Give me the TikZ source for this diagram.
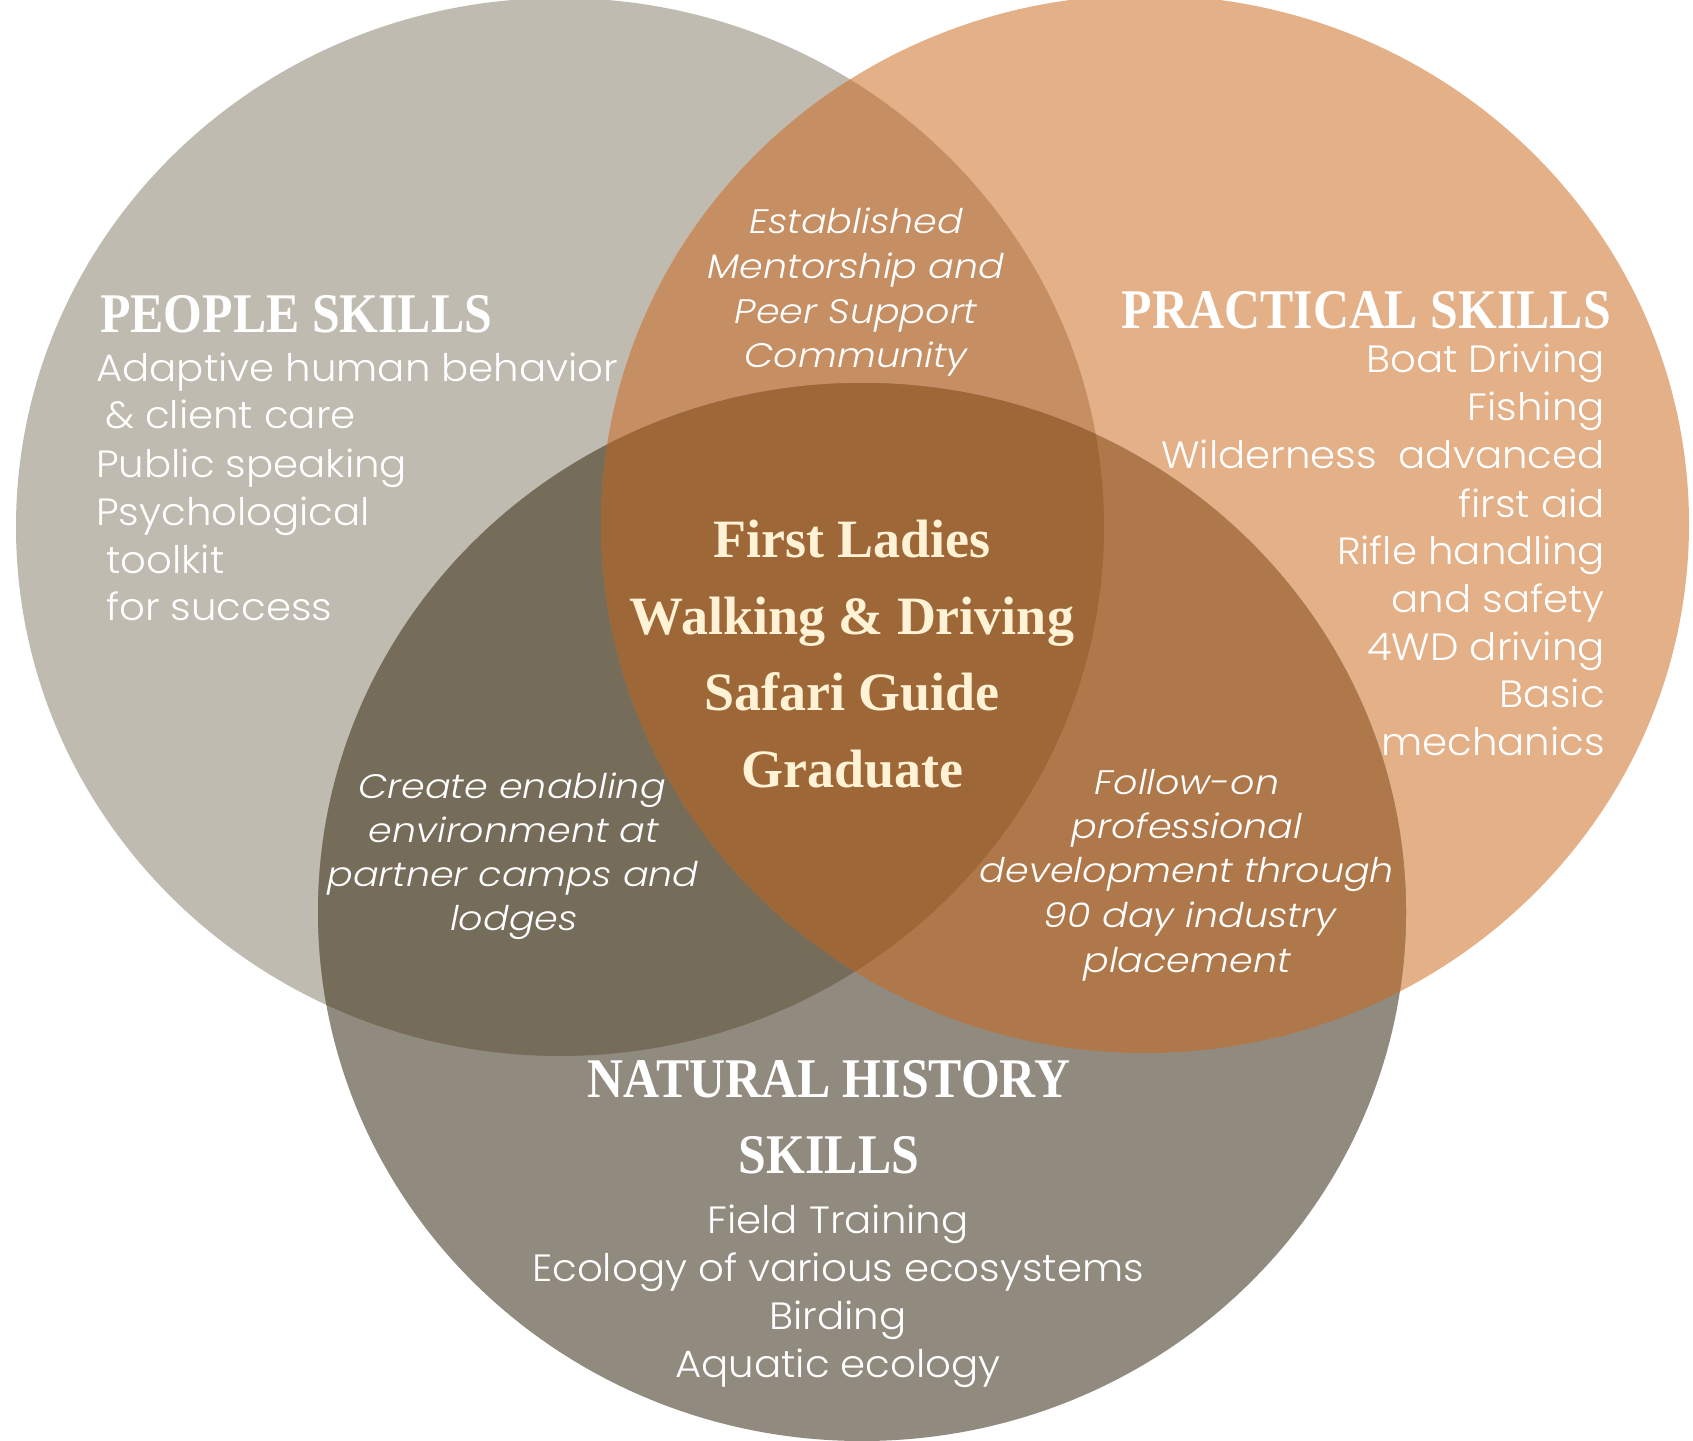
\documentclass[tikz,border=0pt]{standalone}
\usepackage{fontspec}
\newfontfamily\bodyf{Poppins Light}[FakeStretch=1.06]
\newfontfamily\italf{Poppins Light Italic}[FakeStretch=1.12]
\newfontfamily\headf{Liberation Serif}[FakeStretch=0.89]
\newfontfamily\titlef{Liberation Serif}
\definecolor{leftc}{HTML}{BFBBB0}
\definecolor{rightc}{HTML}{E3B088}
\definecolor{botc}{HTML}{918A7E}
\definecolor{lrc}{HTML}{C68E63}
\definecolor{lbc}{HTML}{756C5A}
\definecolor{rbc}{HTML}{AF784B}
\definecolor{allc}{HTML}{9E6737}
\definecolor{cream}{HTML}{FFF2D5}
\tikzset{
  body/.style={font=\bodyf\fontsize{38}{46}\selectfont, text=white, inner sep=0pt},
  ital/.style={font=\italf\fontsize{34}{44}\selectfont, text=white, inner sep=0pt},
  head/.style={font=\headf\bfseries\fontsize{56}{60}\selectfont, text=white, inner sep=0pt},
  ttl/.style={font=\titlef\bfseries\fontsize{54}{60}\selectfont, text=cream, inner sep=0pt},
}
\def\EL{(560,527) ellipse [x radius=544pt, y radius=529pt]}
\def\ER{(1145,524) ellipse [x radius=544pt, y radius=529pt]}
\def\EB{(862,912) ellipse [x radius=544pt, y radius=529pt]}
\begin{document}
\begin{tikzpicture}[x=1pt,y=-1pt]
\useasboundingbox (0,0) rectangle (1693,1440);
% base circles
\fill[leftc] \EL;
\fill[rightc] \ER;
\fill[botc] \EB;
% pairwise overlaps
\begin{scope}\clip \EL; \fill[lrc] \ER; \end{scope}
\begin{scope}\clip \EL; \fill[lbc] \EB; \end{scope}
\begin{scope}\clip \ER; \fill[rbc] \EB; \end{scope}
\begin{scope}\clip \EL; \clip \ER; \fill[allc] \EB; \end{scope}

% PEOPLE SKILLS
\node[head, anchor=base west] (ph) at (100,332) {PEOPLE SKILLS};
\node[body, anchor=base west] (p1) at (96,381) {Adaptive human behavior};
\node[body, anchor=base west] (p2) at (105,428) {\& client care};
\node[body, anchor=base west] (p3) at (96,477) {Public speaking};
\node[body, anchor=base west] (p4) at (96,525) {Psychological};
\node[body, anchor=base west] (p5) at (106,573) {toolkit};
\node[body, anchor=base west] (p6) at (106,620) {for success};

% PRACTICAL SKILLS
\node[head, anchor=base east] (rh) at (1611,328) {PRACTICAL SKILLS};
\node[body, anchor=base east] (r1) at (1605,372) {Boat Driving};
\node[body, anchor=base east] (r2) at (1605,420) {Fishing};
\node[body, anchor=base east] (r3) at (1605,468) {Wilderness\ \ advanced};
\node[body, anchor=base east] (r4) at (1605,517) {first aid};
\node[body, anchor=base east] (r5) at (1605,564) {Rifle handling};
\node[body, anchor=base east] (r6) at (1605,612) {and safety};
\node[body, anchor=base east] (r7) at (1605,660) {4WD driving};
\node[body, anchor=base east] (r8) at (1605,707) {Basic};
\node[body, anchor=base east] (r9) at (1605,755) {mechanics};

% NATURAL HISTORY SKILLS
\node[head, anchor=base] (nh1) at (829,1097) {NATURAL HISTORY};
\node[head, anchor=base] (nh2) at (829,1173) {SKILLS};
\node[body, anchor=base] (n1) at (838,1233) {Field Training};
\node[body, anchor=base] (n2) at (838,1281) {Ecology of various ecosystems};
\node[body, anchor=base] (n3) at (838,1329) {Birding};
\node[body, anchor=base] (n4) at (838,1377) {Aquatic ecology};

% centre title
\node[ttl, anchor=base] (c1) at (852,557) {First Ladies};
\node[ttl, anchor=base] (c2) at (852,634) {Walking \& Driving};
\node[ttl, anchor=base] (c3) at (852,710) {Safari Guide};
\node[ttl, anchor=base] (c4) at (852,787) {Graduate};

% top overlap
\node[ital, anchor=base] (t1) at (856,233) {Established};
\node[ital, anchor=base] (t2) at (856,278) {Mentorship and};
\node[ital, anchor=base] (t3) at (856,323) {Peer Support};
\node[ital, anchor=base] (t4) at (856,367) {Community};

% left-bottom overlap
\node[ital, anchor=base] (l1) at (512,798) {Create enabling};
\node[ital, anchor=base] (l2) at (514,842) {environment at};
\node[ital, anchor=base] (l3) at (513,886) {partner camps and};
\node[ital, anchor=base] (l4) at (514,930) {lodges};

% right-bottom overlap
\node[ital, anchor=base] (b1) at (1187,794) {Follow-on};
\node[ital, anchor=base] (b2) at (1187,838) {professional};
\node[ital, anchor=base] (b3) at (1187,882) {development through};
\node[ital, anchor=base] (b4) at (1190,927) {90 day industry};
\node[ital, anchor=base] (b5) at (1187,972) {placement};
\end{tikzpicture}
\end{document}
